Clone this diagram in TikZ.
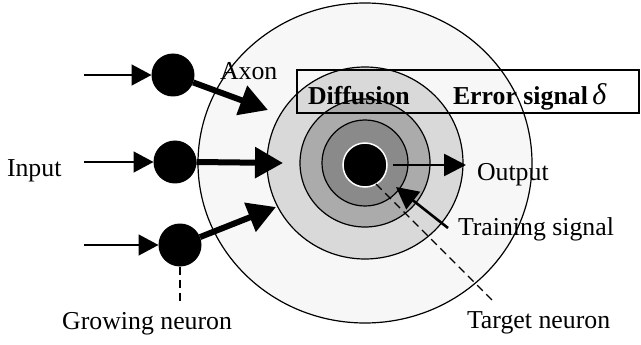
\documentclass[tikz,border=0pt]{standalone}
\usepackage{fontspec}
\setmainfont{Liberation Serif}
\usetikzlibrary{arrows.meta}
\begin{document}
\begin{tikzpicture}[x=1pt,y=-1pt,
  every node/.style={inner sep=0pt,outer sep=0pt,font=\fontsize{25.8}{30}\selectfont},
  lbl/.style={anchor=base west},
  neuron/.style={circle,fill=black,minimum size=43pt},
  ring/.style={draw=black,line width=1.2pt},
  inarrow/.style={line width=1.6pt,-{Triangle[length=20pt,width=21pt]}},
  axon/.style={line width=6pt,-{Triangle[length=28pt,width=30pt]}},
  sigarrow/.style={line width=2.6pt,-{Triangle[length=22pt,width=22pt]}},
  guide/.style={line width=1.2pt,dash pattern=on 8pt off 5pt}]
\useasboundingbox (0,0) rectangle (641,345);
% concentric regions
\coordinate (c) at (365,163);
\fill[fill=black!3] (c) ellipse [x radius=167pt,y radius=160pt];
\fill[fill=black!15] (c) ellipse [x radius=98pt,y radius=96pt];
\fill[fill=black!33] (c) ellipse [x radius=65pt,y radius=64pt];
\fill[fill=black!46] (c) ellipse [x radius=43pt,y radius=43pt];
% label box
\draw[line width=1.4pt] (297,70) rectangle (639,113);
\node[lbl,font=\fontsize{25.8}{30}\selectfont\bfseries] (diff) at (308,105) {Diffusion};
\node[lbl,font=\fontsize{25.8}{30}\selectfont\bfseries] (err) at (453,105) {Error signal\,{\fontsize{30}{30}\selectfont\mdseries\itshape δ}};
% ring outlines over the labels
\draw[ring] (c) ellipse [x radius=167pt,y radius=160pt];
\draw[ring] (c) ellipse [x radius=98pt,y radius=96pt];
\draw[ring] (c) ellipse [x radius=65pt,y radius=64pt];
\draw[ring] (c) ellipse [x radius=43pt,y radius=43pt];
\node[circle,fill=black,draw=white,line width=1.5pt,minimum size=44pt] (target) at (365,165) {};
% neurons
\node[neuron] (n1) at (173,75) {};
\node[neuron] (n2) at (175,162) {};
\node[neuron] (n3) at (180,245) {};
\coordinate (i1) at (84,75);
\coordinate (i2) at (84,162);
\coordinate (i3) at (84,245);
\draw[inarrow] (i1) -- (n1);
\draw[inarrow] (i2) -- (n2);
\draw[inarrow] (i3) -- (n3);
\coordinate (a1) at (268,110);
\coordinate (a2) at (283,163);
\coordinate (a3) at (276,207);
\draw[axon] (n1) -- (a1);
\draw[axon] (n2.east) -- (a2);
\draw[axon] (n3) -- (a3);
% output and training
\coordinate (o1) at (393,165);
\coordinate (o2) at (466,165);
\draw[sigarrow] (o1) -- (o2);
\coordinate (t1) at (448,228);
\coordinate (t2) at (396,187);
\draw[sigarrow] (t1) -- (t2);
% guides
\coordinate (tg) at (495,303);
\draw[guide] (target.-60) -- (tg);
\coordinate (gg) at (180,302);
\draw[guide] (n3.south) -- (gg);
% labels
\node[lbl] (axon) at (220,80) {Axon};
\node[lbl] (input) at (7,176) {Input};
\node[lbl] (output) at (477,180) {Output};
\node[lbl] (train) at (458,235) {Training signal};
\node[lbl] (tn) at (467,328) {Target neuron};
\node[anchor=base east] (gn) at (232,329) {Growing neuron};
\end{tikzpicture}
\end{document}
